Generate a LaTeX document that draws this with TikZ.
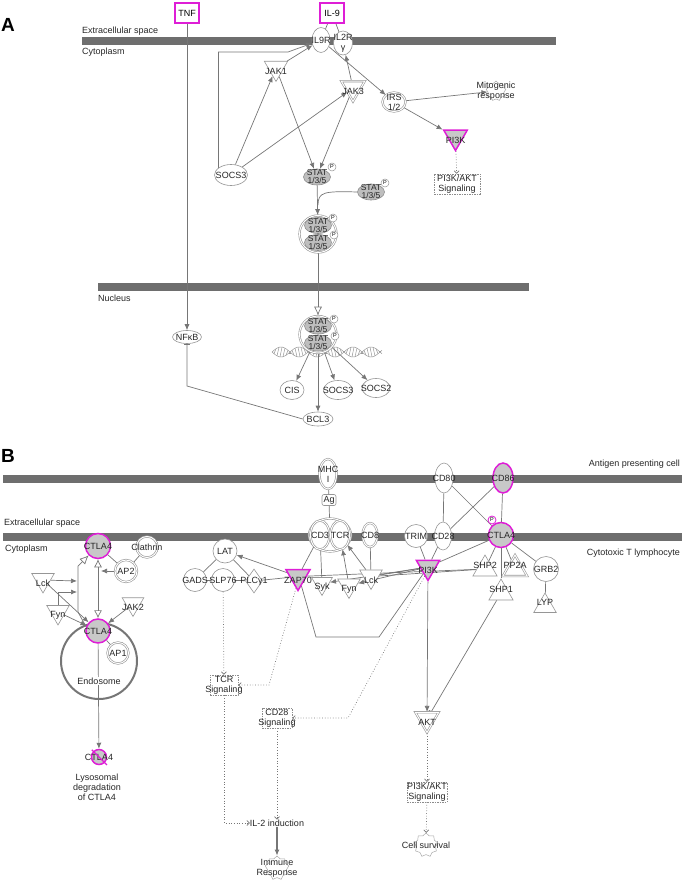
\documentclass[tikz,border=0pt]{standalone}
\usepackage{fontspec}
\setmainfont{Liberation Sans}
\usetikzlibrary{shapes.geometric,arrows.meta,backgrounds}
\definecolor{ipamag}{RGB}{222,30,214}
\definecolor{ipaline}{RGB}{118,118,118}
\definecolor{ipaedge}{RGB}{150,150,150}
\definecolor{ipafill}{RGB}{200,200,200}
\definecolor{ipabar}{RGB}{110,110,110}
\newcommand{\lblfont}{\fontsize{9}{10}\selectfont}
\newcommand{\statfont}{\fontsize{8.5}{8}\selectfont}
\newcommand{\pfont}{\fontsize{5.5}{5.5}\selectfont}
\begin{document}
\begin{tikzpicture}[x=1pt,y=-1pt,
    lbl/.style={font=\lblfont,text=black!85,inner sep=0pt,align=center},
    txt/.style={label={[lbl]center:#1}},
    txtd/.style={label={[lbl,yshift=-3.5pt]center:#1}},
    txtu/.style={label={[lbl,yshift=4pt]center:#1}},
    mol/.style={draw=ipaedge,fill=white,line width=0.6pt,inner sep=0pt},
    ell/.style={mol,ellipse},
    circ/.style={mol,circle},
    dbl/.style={double=white,double distance=1pt},
    hit/.style={draw=ipamag,fill=ipafill,line width=1.5pt},
    tridn/.style={mol,regular polygon,regular polygon sides=3,shape border rotate=180,minimum size=27pt},
    triup/.style={mol,regular polygon,regular polygon sides=3,minimum size=28pt},
    stat/.style={ellipse,draw=black!45,fill=ipafill!95!black,line width=0.6pt,inner sep=0pt,
        minimum width=27pt,minimum height=16pt,label={[lbl,font=\statfont]center:STAT\\1/3/5}},
    pcirc/.style={circle,draw=ipaedge,fill=white,line width=0.5pt,inner sep=0pt,minimum size=8pt,font=\pfont},
    drug/.style={draw=ipamag,line width=1.5pt,fill=white,minimum width=24pt,minimum height=20pt,inner sep=0pt,font=\lblfont},
    sigbox/.style={draw=black!45,dash pattern=on 1.5pt off 1pt,line width=0.5pt,minimum width=#1,minimum height=20pt,inner sep=0pt},
    gear/.style={star,star points=9,star point ratio=1.25,draw=black!35,line width=0.5pt,minimum size=#1,inner sep=0pt},
    comp/.style={font=\lblfont,text=black!85,inner sep=0pt},
    letter/.style={font=\fontsize{19}{19}\selectfont\bfseries,inner sep=0pt},
    membrane/.style={draw=ipabar,line width=8pt},
    helix/.style={draw=black!40,line width=0.5pt},
    link/.style={draw=ipaline,line width=0.7pt},
    arr/.style={link,-{Latex[length=6pt,width=5pt]}},
    openarr/.style={link,-{Latex[open,length=9pt,width=8pt]}},
    openboth/.style={link,{Latex[open,length=8pt,width=8pt]}-{Latex[open,length=8pt,width=8pt]}},
    dotarr/.style={draw=ipaline,dotted,line width=0.7pt,-{Straight Barb[length=2.5pt,width=5pt]}},
    inhib/.style={link,-{Bar[width=6pt]}}]
    \useasboundingbox (0,0) rectangle (685,882);

    % panel A
    \node[letter] (pa) at (8,25) {A};
    \node[comp,anchor=west] (exa) at (82,31) {Extracellular space};
    \node[comp,anchor=west] (cya) at (82,52) {Cytoplasm};
    \node[comp,anchor=west] (nua) at (98,298) {Nucleus};
    \node[drug] (tnf) at (187,13) {TNF};
    \node[drug] (il9) at (332,13) {IL-9};
    \node[ell,minimum width=18pt,minimum height=25pt,txt=IL9R] (il9r) at (321,40) {};
    \node[ell,minimum width=19pt,minimum height=24pt,txt={IL2R\\γ}] (il2r) at (343,43) {};
    \node[tridn,txtd=JAK1] (jak1) at (276,68) {};
    \node[tridn,dbl,txtd=JAK3] (jak3) at (353,88) {};
    \node[ell,dbl,minimum width=23pt,minimum height=19pt,txt={IRS\\1/2}] (irs) at (394,102) {};
    \node[gear=20pt,txt={Mitogenic\\response}] (mito) at (496,91) {};
    \node[tridn,hit,txtd=PI3K] (pi3ka) at (455.5,137) {};
    \node[sigbox=46pt,txt={PI3K/AKT\\Signaling}] (pakta) at (457,184) {};
    \node[ell,minimum width=33pt,minimum height=21pt,txt=SOCS3] (socs3a) at (231,175) {};
    \node[stat] (stat1) at (317,177) {};
    \node[pcirc] (p1) at (332,167) {P};
    \node[stat] (stat2) at (371,192) {};
    \node[pcirc] (p2) at (385,183) {P};
    \node[ell,dbl,minimum size=37pt] (dimer1) at (318,234) {};
    \node[stat] (stat3) at (318,225.5) {};
    \node[pcirc] (p3) at (333,218) {P};
    \node[stat] (stat4) at (318,242.5) {};
    \node[pcirc] (p4) at (334,235) {P};
    \node[ell,dbl,minimum size=37pt] (dimer2) at (318,334.5) {};
    \node[stat] (stat5) at (318,326) {};
    \node[pcirc] (p5) at (334,319) {P};
    \node[stat] (stat6) at (318,343) {};
    \node[pcirc] (p6) at (335,336) {P};
    \node[ell,minimum width=24pt,minimum height=19pt,txt=CIS] (cis) at (292,390) {};
    \node[ell,minimum width=29pt,minimum height=19pt,txt=SOCS3] (socs3n) at (338,390) {};
    \node[ell,minimum width=28pt,minimum height=19pt,txt=SOCS2] (socs2) at (376,388) {};
    \node[ell,minimum width=30pt,minimum height=14pt,txt=BCL3] (bcl3) at (318,419) {};
    \node[ell,minimum width=29pt,minimum height=13pt,txt=NFκB] (nfkb) at (187,337) {};
    \coordinate (merge) at (318,205);

    % panel B
    \node[letter] (pb) at (8,456) {B};
    \node[comp,anchor=east] (apc) at (680,464) {Antigen presenting cell};
    \node[comp,anchor=east] (ctl) at (680,553) {Cytotoxic T lymphocyte};
    \node[comp,anchor=west] (exb) at (4,523) {Extracellular space};
    \node[comp,anchor=west] (cyb) at (5,549) {Cytoplasm};
    \node[ell,dbl,minimum width=17pt,minimum height=30pt,txt={MHC\\I}] (mhc) at (328,474) {};
    \node[mol,rounded corners=2pt,minimum width=14pt,minimum height=11pt,font=\lblfont,text=black!85] (ag) at (329,500) {Ag};
    \node[ell,dbl,minimum width=42pt,minimum height=33pt] (tcx) at (330,535) {};
    \node[ell,dbl,minimum width=19pt,minimum height=29pt,txt=CD3] (cd3) at (320,535) {};
    \node[ell,dbl,minimum width=19pt,minimum height=29pt,txt=TCR] (tcr) at (340,535) {};
    \node[ell,dbl,minimum width=15pt,minimum height=24pt,txt=CD8] (cd8) at (370,535) {};
    \node[circ,minimum size=23pt,txt=TRIM] (trim) at (416,536) {};
    \node[ell,minimum width=17pt,minimum height=28pt,txt=CD28] (cd28) at (443,536) {};
    \node[ell,minimum width=18pt,minimum height=30pt,txt=CD80] (cd80) at (444,478) {};
    \node[ell,hit,minimum width=20pt,minimum height=30pt,txt=CD86] (cd86) at (503,478) {};
    \node[circ,hit,minimum size=25pt,txt=CTLA4] (ctlar) at (501,535) {};
    \node[pcirc,draw=ipamag,line width=0.8pt] (pr) at (492,520) {P};
    \node[tridn,hit,minimum size=28pt,txtd=ZAP70] (zap70) at (298,576.5) {};
    \node[tridn,minimum size=24pt,txtd=Syk] (syk) at (322,583.5) {};
    \node[tridn,minimum size=26pt,txtd=Fyn] (fynb) at (349,585.5) {};
    \node[tridn,minimum size=26pt,txtd=Lck] (lckb) at (371,576.5) {};
    \node[tridn,hit,txtd=PI3K] (pi3kb) at (428,567) {};
    \node[triup,txtu=SHP2] (shp2) at (485,569) {};
    \node[triup,dbl,txtu=PP2A] (pp2a) at (515,569) {};
    \node[triup,txtu=SHP1] (shp1) at (501,593) {};
    \node[circ,minimum size=25pt,txt=GRB2] (grb2) at (546,569) {};
    \node[triup,minimum size=26pt,txtu=LYP] (lyp) at (545,606) {};
    \node[circ,minimum size=24pt,txt=LAT] (lat) at (225,551) {};
    \node[circ,minimum size=23pt,txt=GADS] (gads) at (195,580) {};
    \node[circ,minimum size=23pt,txt=SLP76] (slp76) at (223,580) {};
    \node[mol,diamond,minimum width=17pt,minimum height=24pt,txt=PLCγ1] (plc) at (254,581) {};
    \node[circ,hit,minimum size=25pt,txt=CTLA4] (ctlat) at (98,546) {};
    \node[circ,dbl,minimum size=21pt,txt=Clathrin] (clath) at (147,547) {};
    \node[circ,dbl,minimum size=22pt,txt=AP2] (ap2) at (126,571) {};
    \node[tridn,minimum size=26pt,txtd=Lck] (lckl) at (43,580) {};
    \node[tridn,minimum size=26pt,txtd=Fyn] (fynl) at (58,612) {};
    \node[tridn,minimum size=25pt,txtd=JAK2] (jak2) at (133,604) {};
    \node[circle,draw=ipaline,line width=2pt,minimum size=76pt] (endo) at (99,661) {};
    \node[lbl,fill=white,inner sep=1pt] (endolbl) at (99,681) {Endosome};
    \node[circ,hit,minimum size=24pt,txt=CTLA4] (ctlal) at (98,631) {};
    \node[circ,dbl,minimum size=21pt,txt=AP1] (ap1) at (118,653) {};
    \node[circ,hit,minimum size=15pt,txt=CTLA4] (ctlax) at (99,757) {};
    \draw[ipamag,line width=1.2pt,shorten <=-2pt,shorten >=-3pt] (ctlax.north west) -- (ctlax.south east);
    \node[lbl] (lyso) at (97,787) {Lysosomal\\degradation\\of CTLA4};
    \node[sigbox=28pt,txt={TCR\\Signaling}] (tcrsig) at (224,685) {};
    \node[sigbox=30pt,txt={CD28\\Signaling}] (cd28sig) at (277,718) {};
    \node[lbl] (il2) at (277,823) {IL-2 induction};
    \node[gear=24pt,txt={Immune\\Response}] (immune) at (277,868) {};
    \node[tridn,dbl,txtd=AKT] (akt) at (427,719) {};
    \node[sigbox=40pt,txt={PI3K/AKT\\Signaling}] (paktb) at (427,792) {};
    \node[gear=24pt,txt=Cell survival] (surv) at (426,845) {};
    \coordinate (dockap) at (101,571);
    \coordinate (lanetop) at (78,566);
    \coordinate (lanelck) at (77,581);
    \coordinate (lanefyn) at (77,592);

    \begin{scope}[on background layer]
        % membranes
        \draw[membrane] (82,41.5) -- (556,41.5);
        \draw[membrane] (98,287) -- (529,287);
        \draw[membrane] (3,479) -- (682,479);
        \draw[membrane] (3,537) -- (682,537);
        % DNA
        \draw[helix] plot[domain=272:382,samples=90,smooth] (\x,{352+5*sin((\x-272)*10)});
        \draw[helix] plot[domain=272:382,samples=90,smooth] (\x,{352-5*sin((\x-272)*10)});
        \foreach \t in {274,277,...,380}
            \draw[helix] (\t,{352+5*sin((\t-272)*10)}) -- (\t+2,{352-5*sin((\t-270)*10)});
        % links A
        \draw[link] (il9) -- (il9r);
        \draw[link] (il9) -- (il2r);
        \draw[arr] (tnf) -- (nfkb);
        \draw[arr] (socs3a.150) |- (288,52) -- (il9r);
        \draw[arr] (jak1) -- (il9r);
        \draw[arr] (socs3a) -- (jak1);
        \draw[arr] (socs3a) -- (jak3);
        \draw[arr] (jak1) -- (stat1.110);
        \draw[arr] (jak3) -- (stat1.70);
        \draw[arr] (jak3) -- (il2r);
        \draw[arr] (il9r) -- (irs);
        \draw[arr] (irs) -- (mito);
        \draw[arr] (irs) -- (pi3ka);
        \draw[dotarr] (pi3ka) -- (pakta);
        \draw[arr] (stat1) -- (dimer1);
        \draw[link] (stat2.west) .. controls (324,191) and (318,192) .. (merge);
        \draw[openarr] (dimer1) -- (dimer2);
        \draw[arr] (dimer2) -- (cis);
        \draw[arr] (dimer2) -- (socs3n);
        \draw[arr] (dimer2) -- (socs2);
        \draw[arr] (dimer2) -- (bcl3);
        \draw[inhib] (bcl3.west) -- (187,386) -- (nfkb);
        % links B
        \draw[link] (mhc) -- (ag);
        \draw[link] (ag) -- (tcx);
        \draw[link] (cd80) -- (cd28);
        \draw[link] (cd80) -- (ctlar);
        \draw[link] (cd86) -- (cd28);
        \draw[link] (cd86) -- (ctlar);
        \draw[link] (trim) -- (pi3kb);
        \draw[link] (cd28) -- (pi3kb);
        \draw[link] (ctlar) -- (pi3kb);
        \draw[link] (ctlar) -- (shp2);
        \draw[link] (ctlar) -- (pp2a);
        \draw[link] (ctlar) -- (shp1);
        \draw[link] (ctlar) -- (grb2);
        \draw[link] (grb2) -- (lyp);
        \draw[link] (cd8) -- (lckb);
        \draw[link] (zap70) -- (cd3);
        \draw[link] (syk) -- (cd3);
        \draw[arr] (fynb) -- (tcr);
        \draw[arr] (lckb) -- (tcr);
        \draw[link] (zap70) -- (shp2);
        \draw[link] (lckb) -- (shp2);
        \draw[link] (lckb) -- (pi3kb);
        \draw[arr] (pi3kb) -- (fynb);
        \draw[arr] (pi3kb) -- (syk);
        \draw[arr] (zap70) -- (lat);
        \draw[link] (gads) -- (slp76);
        \draw[link] (slp76) -- (plc);
        \draw[link] (plc) -- (zap70);
        \draw[link] (lat) -- (gads);
        \draw[link] (lat) -- (plc);
        \draw[link] (zap70.-70) -- (316,637) -- (379,637) -- (pi3kb);
        \draw[dotarr] (slp76) -- (tcrsig);
        \draw[dotarr] (zap70.-100) -- (269,685) -- (tcrsig);
        \draw[dotarr] (pi3kb.-110) -- (348,718) -- (cd28sig);
        \draw[dotarr] (tcrsig) |- (il2);
        \draw[dotarr] (cd28sig) -- (il2);
        \draw[arr,line width=1.2pt] (il2) -- (immune);
        \draw[arr] (pi3kb) -- (akt);
        \draw[inhib] (shp1) -- (akt);
        \draw[dotarr] (akt) -- (paktb);
        \draw[dotarr] (paktb) -- (surv);
        \draw[link] (ctlat) -- (ap2);
        \draw[link] (ap2) -- (clath);
        \draw[arr] (ap2) -- (dockap);
        \draw[openboth] (ctlal) -- (ctlat);
        \draw[openarr] (ctlal.160) -- (78,612) -- (lanetop) -- (ctlat);
        \draw[arr] (lckl) -- (lanelck);
        \draw[arr] (fynl.90) |- (lanefyn);
        \draw[arr] (lckl) -- (ctlal);
        \draw[arr] (fynl) -- (ctlal);
        \draw[arr] (jak2) -- (ctlal);
        \draw[link] (ctlal) -- (ap1);
        \draw[arr] (ctlal) -- (ctlax);
    \end{scope}
\end{tikzpicture}
\end{document}
